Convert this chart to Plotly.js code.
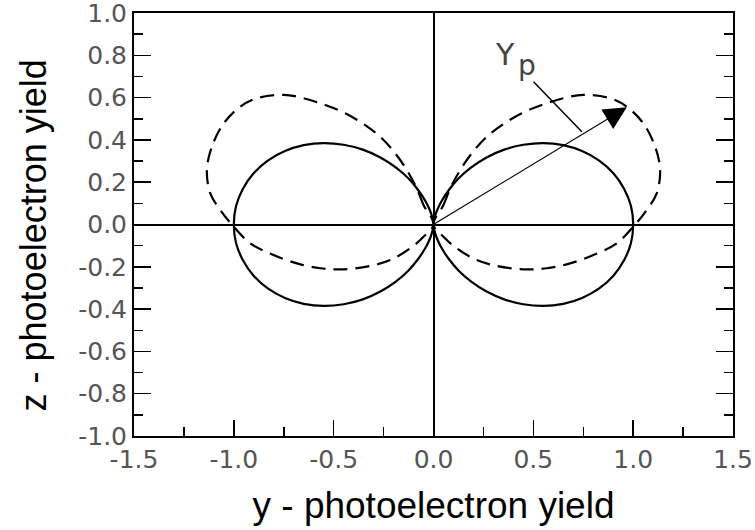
<!DOCTYPE html>
<html>
<head>
<meta charset="utf-8">
<script src="https://cdn.plot.ly/plotly-3.0.1.min.js"></script>
<style>
  html, body { margin: 0; padding: 0; background: #fff; }
  #chart { width: 755px; height: 530px; }
</style>
</head>
<body>
<div id="chart"></div>
<script>
// Solid curve (right lobe): y and z photoelectron yield
var solidRightY = [1, 0.989, 0.955, 0.901, 0.830, 0.744, 0.650, 0.550, 0.450, 0.354, 0.266, 0.189, 0.125, 0.076, 0.040, 0.017, 0.005, 0.001, 0,
                   0.001, 0.005, 0.017, 0.040, 0.076, 0.125, 0.189, 0.266, 0.354, 0.450, 0.550, 0.650, 0.744, 0.830, 0.901, 0.955, 0.989, 1];
var solidRightZ = [0, 0.087, 0.168, 0.242, 0.302, 0.347, 0.375, 0.385, 0.377, 0.354, 0.317, 0.270, 0.217, 0.162, 0.110, 0.065, 0.030, 0.008, 0,
                   -0.008, -0.030, -0.065, -0.110, -0.162, -0.217, -0.270, -0.317, -0.354, -0.377, -0.385, -0.375, -0.347, -0.302, -0.242, -0.168, -0.087, 0];
// Solid curve (left lobe)
var solidLeftY = [-1, -0.989, -0.955, -0.901, -0.830, -0.744, -0.650, -0.550, -0.450, -0.354, -0.266, -0.189, -0.125, -0.076, -0.040, -0.017, -0.005, -0.001, 0,
                  -0.001, -0.005, -0.017, -0.040, -0.076, -0.125, -0.189, -0.266, -0.354, -0.450, -0.550, -0.650, -0.744, -0.830, -0.901, -0.955, -0.989, -1];
var solidLeftZ = [0, 0.087, 0.168, 0.242, 0.302, 0.347, 0.375, 0.385, 0.377, 0.354, 0.317, 0.270, 0.217, 0.162, 0.110, 0.065, 0.030, 0.008, 0,
                  -0.008, -0.030, -0.065, -0.110, -0.162, -0.217, -0.270, -0.317, -0.354, -0.377, -0.385, -0.375, -0.347, -0.302, -0.242, -0.168, -0.087, 0];

// Dashed curve (right lobe)
var dashedRightY = [0, 0.050, 0.084, 0.134, 0.192, 0.259, 0.342, 0.442, 0.542, 0.651, 0.750, 0.884, 0.968, 1.051, 1.110, 1.135, 1.118, 1.068, 1.010,
                    0.918, 0.801, 0.684, 0.567, 0.450, 0.317, 0.217, 0.117, 0.050, 0];
var dashedRightZ = [0, 0.092, 0.171, 0.258, 0.337, 0.408, 0.470, 0.526, 0.565, 0.597, 0.613, 0.597, 0.557, 0.478, 0.368, 0.258, 0.147, 0.069, 0,
                    -0.089, -0.144, -0.184, -0.207, -0.212, -0.196, -0.168, -0.113, -0.058, 0];
// Dashed curve (left lobe)
var dashedLeftY = [0, -0.050, -0.084, -0.134, -0.192, -0.259, -0.342, -0.442, -0.542, -0.651, -0.750, -0.884, -0.968, -1.051, -1.110, -1.135, -1.118, -1.068, -1.010,
                   -0.918, -0.801, -0.684, -0.567, -0.450, -0.317, -0.217, -0.117, -0.050, 0];
var dashedLeftZ = [0, 0.092, 0.171, 0.258, 0.337, 0.408, 0.470, 0.526, 0.565, 0.597, 0.613, 0.597, 0.557, 0.478, 0.368, 0.258, 0.147, 0.069, 0,
                   -0.089, -0.144, -0.184, -0.207, -0.212, -0.196, -0.168, -0.113, -0.058, 0];

// Tick values and labels
var xTickVals = [-1.5, -1.0, -0.5, 0.0, 0.5, 1.0, 1.5];
var xTickText = ['-1.5', '-1.0', '-0.5', '0.0', '0.5', '1.0', '1.5'];
var yTickVals = [-1.0, -0.8, -0.6, -0.4, -0.2, 0.0, 0.2, 0.4, 0.6, 0.8, 1.0];
var yTickText = ['-1.0', '-0.8', '-0.6', '-0.4', '-0.2', '0.0', '0.2', '0.4', '0.6', '0.8', '1.0'];

// Polarisation vector Yp (arrow from origin to tip) and its label leader
var arrowTail = [0, 0];
var arrowTip = [0.968, 0.554];
var leaderY = [0.501, 0.743];
var leaderZ = [0.675, 0.439];
var labelMain = 'Y';
var labelSub = 'p';

var xTitle = 'y - photoelectron yield';
var yTitle = 'z - photoelectron yield';

var solidLine = { color: '#000', width: 2.2, shape: 'spline', smoothing: 1 };
var dashLine = { color: '#000', width: 2.2, dash: '14px,8px', shape: 'spline', smoothing: 1 };

var traces = [
  { x: solidRightY, y: solidRightZ, mode: 'lines', line: solidLine, hoverinfo: 'skip' },
  { x: solidLeftY, y: solidLeftZ, mode: 'lines', line: solidLine, hoverinfo: 'skip' },
  { x: dashedRightY, y: dashedRightZ, mode: 'lines', line: dashLine, hoverinfo: 'skip' },
  { x: dashedLeftY, y: dashedLeftZ, mode: 'lines', line: dashLine, hoverinfo: 'skip' },
  { x: leaderY, y: leaderZ, mode: 'lines', line: { color: '#000', width: 1.5 }, hoverinfo: 'skip' }
];

var tickFont = { family: 'DejaVu Sans, sans-serif', size: 25, color: '#555' };

var layout = {
  width: 755, height: 530,
  margin: { l: 134, r: 22, t: 13, b: 94 },
  paper_bgcolor: '#fff', plot_bgcolor: '#fff',
  showlegend: false,
  xaxis: {
    range: [-1.5, 1.5], tickmode: 'array', tickvals: xTickVals, ticktext: xTickText,
    ticks: 'inside', ticklen: 16, tickwidth: 1.5, tickcolor: '#000', ticklabeloverflow: 'allow',
    minor: { dtick: 0.25, tick0: -1.5, ticks: 'inside', ticklen: 9, tickwidth: 1.5, tickcolor: '#000', showgrid: false },
    showline: true, linecolor: '#000', linewidth: 2, mirror: true,
    zeroline: true, zerolinecolor: '#000', zerolinewidth: 2,
    showgrid: false, tickfont: tickFont,
    title: { text: xTitle, font: { family: 'Liberation Sans, Arial, sans-serif', size: 37, color: '#000' }, standoff: 19 }
  },
  yaxis: {
    range: [-1, 1], tickmode: 'array', tickvals: yTickVals, ticktext: yTickText,
    ticks: 'inside', ticklen: 17, tickwidth: 1.5, tickcolor: '#000', ticklabeloverflow: 'allow',
    minor: { dtick: 0.1, tick0: -1, ticks: 'inside', ticklen: 9, tickwidth: 1.5, tickcolor: '#000', showgrid: false },
    showline: true, linecolor: '#000', linewidth: 2, mirror: 'ticks',
    zeroline: true, zerolinecolor: '#000', zerolinewidth: 2,
    showgrid: false, tickfont: tickFont
  },
  annotations: [
    { x: -0.168, y: 0.475, xref: 'paper', yref: 'paper', text: yTitle, textangle: -90, showarrow: false,
      xanchor: 'center', yanchor: 'middle',
      font: { family: 'Liberation Sans, Arial, sans-serif', size: 36, color: '#000' } },
    { x: arrowTip[0], y: arrowTip[1], ax: arrowTail[0], ay: arrowTail[1], xref: 'x', yref: 'y', axref: 'x', ayref: 'y',
      showarrow: true, arrowhead: 2, arrowsize: 3.8, arrowwidth: 1.2, arrowcolor: '#000', standoff: 0, startstandoff: 0, text: '' },
    { x: 0.359, y: 0.806, xref: 'x', yref: 'y', text: labelMain, showarrow: false,
      font: { family: 'DejaVu Sans, sans-serif', size: 30, color: '#444' } },
    { x: 0.469, y: 0.752, xref: 'x', yref: 'y', text: labelSub, showarrow: false,
      font: { family: 'DejaVu Sans, sans-serif', size: 28, color: '#444' } }
  ]
};

Plotly.newPlot('chart', traces, layout, { staticPlot: true, displayModeBar: false });
</script>
</body>
</html>
